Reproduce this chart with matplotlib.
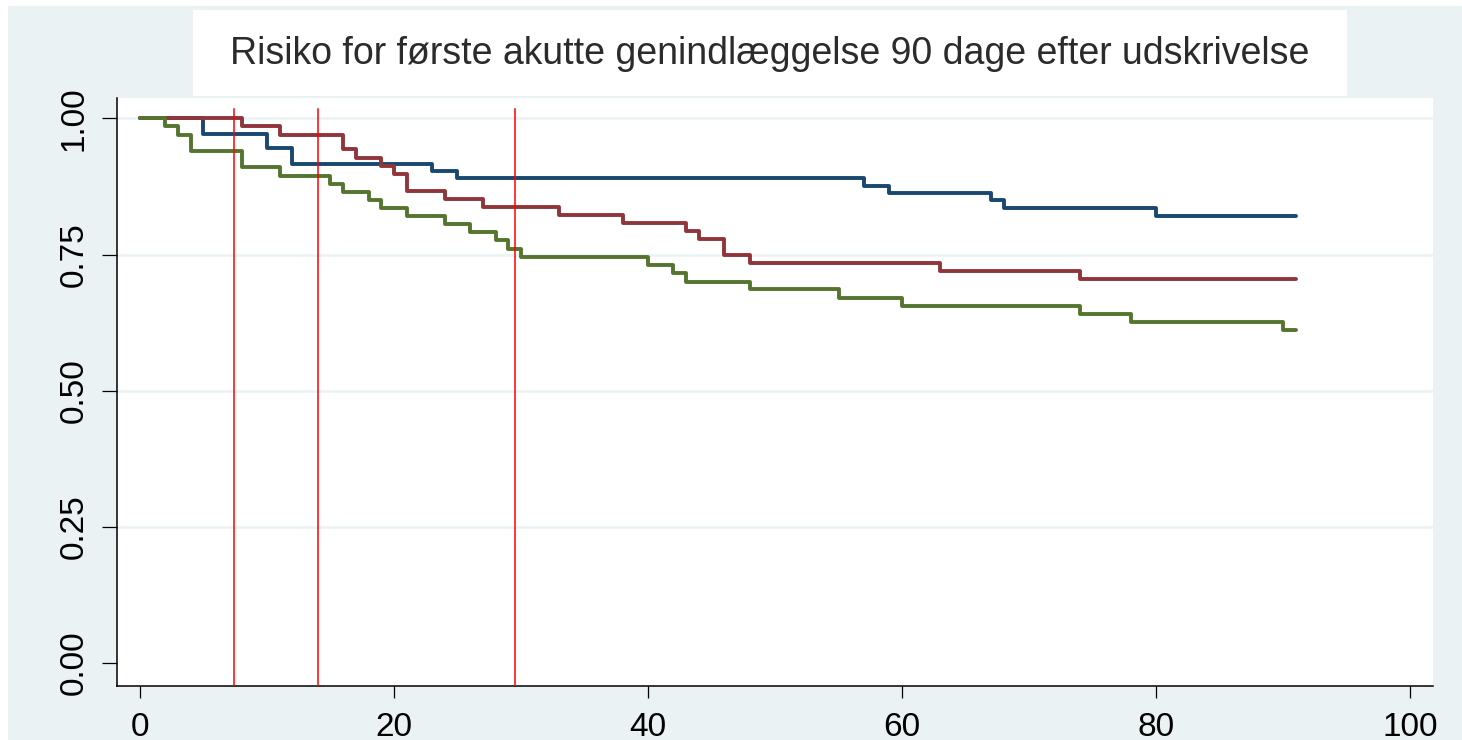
import matplotlib
matplotlib.use("Agg")
import matplotlib.pyplot as plt
from matplotlib.patches import Rectangle

plt.rcParams['font.family'] = ['Liberation Sans', 'DejaVu Sans']

title = "Risiko for første akutte genindlæggelse 90 dage efter udskrivelse"

blue_t = [0, 5, 10, 12, 23, 25, 57, 59, 67, 68, 80, 91]
blue_s = [1.0, 0.972, 0.946, 0.916, 0.904, 0.890, 0.876, 0.863, 0.850, 0.836, 0.821, 0.821]

red_t = [0, 8, 11, 16, 17, 19, 20, 21, 24, 27, 33, 38, 43, 44, 46, 48, 63, 74, 91]
red_s = [1.0, 0.985, 0.970, 0.943, 0.927, 0.912, 0.897, 0.867, 0.852, 0.837, 0.823,
         0.808, 0.793, 0.778, 0.749, 0.734, 0.720, 0.705, 0.705]

green_t = [0, 2, 3, 4, 8, 11, 15, 16, 18, 19, 21, 24, 26, 28, 29, 30, 40, 42, 43, 48,
           55, 60, 74, 78, 90, 91]
green_s = [1.0, 0.985, 0.969, 0.940, 0.910, 0.895, 0.880, 0.865, 0.850, 0.835, 0.820,
           0.806, 0.791, 0.776, 0.761, 0.746, 0.731, 0.716, 0.700, 0.686, 0.671, 0.656,
           0.641, 0.627, 0.611, 0.611]

vlines_x = [7.4, 14.0, 29.5]

xticks = [0, 20, 40, 60, 80, 100]
yticks = [0.0, 0.25, 0.50, 0.75, 1.00]
ytick_labels = ["0.00", "0.25", "0.50", "0.75", "1.00"]

W, H = 1462, 740
fig = plt.figure(figsize=(W / 100, H / 100), dpi=100, facecolor="white")
bg = "#EAF2F3"
fig.patches.append(Rectangle((8 / W, 0), 1 - 8 / W, 1 - 6 / H, transform=fig.transFigure,
                             facecolor=bg, edgecolor="none", zorder=-2))
# title box
fig.patches.append(Rectangle((193 / W, 1 - 96 / H), (1347 - 193) / W, (96 - 10) / H,
                             transform=fig.transFigure, facecolor="white",
                             edgecolor="none", zorder=-1))
fig.text(770 / W, 1 - 54 / H, title, ha="center", va="center", fontsize=27,
         color="#2b2b2b", zorder=2)

ax = fig.add_axes([117 / W, 54 / H, (1433 - 117) / W, (686 - 98) / H])
ax.set_zorder(5)
ax.set_facecolor("white")
ax.set_xlim(-1.81, 101.81)
ax.set_ylim(-0.042, 1.0373)

style = dict(where="post", lw=2.8, solid_capstyle="round", solid_joinstyle="round", zorder=3)
ax.step(blue_t, blue_s, color="#1A476F", **style)
ax.step(red_t, red_s, color="#90353B", **style)
ax.step(green_t, green_s, color="#55752F", **style)

for xv in vlines_x:
    ax.axvline(xv, ymin=0, ymax=0.981, color="#FF0000", lw=1.1, zorder=4)

ax.set_xticks(xticks)
ax.set_yticks(yticks)
ax.set_yticklabels(ytick_labels, rotation=90, va="center")
ax.tick_params(axis="y", length=10.5, width=0.9, pad=9, labelsize=24, colors="black")
ax.tick_params(axis="x", length=8.5, width=0.9, pad=10, labelsize=24, colors="black")
ax.yaxis.grid(True, color=bg, lw=1.8)
ax.set_axisbelow(True)
ax.get_ygridlines()[0].set_visible(False)

for s in ["top", "right"]:
    ax.spines[s].set_visible(False)
for s in ["left", "bottom"]:
    ax.spines[s].set_linewidth(1.1)
    ax.spines[s].set_color("black")

fig.savefig("out.png", dpi=100, facecolor=fig.get_facecolor())
